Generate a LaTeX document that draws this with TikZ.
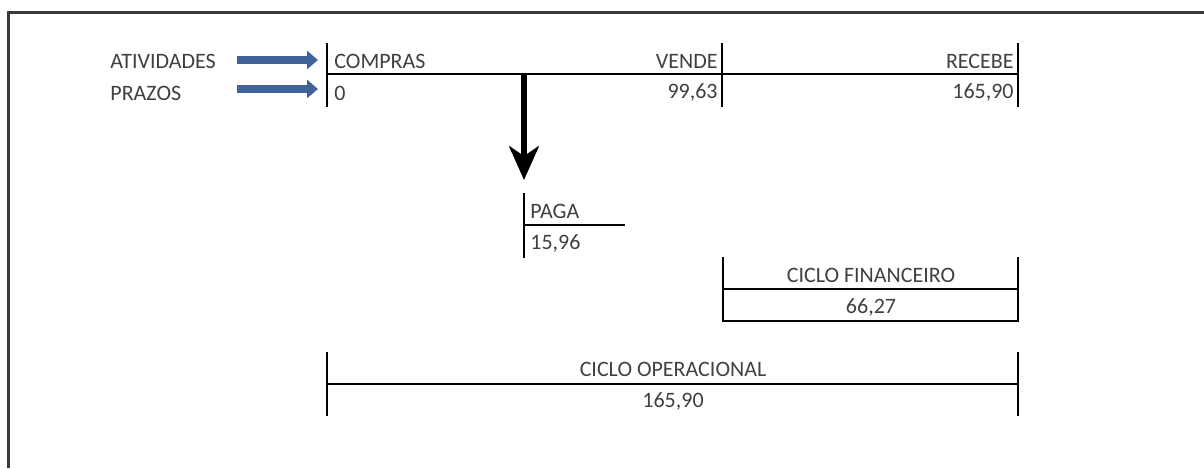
\documentclass[tikz,border=0pt]{standalone}
\usepackage{fontspec}
\setmainfont{Carlito}
\usetikzlibrary{arrows.meta}
\definecolor{ink}{HTML}{404040}
\definecolor{steel}{HTML}{40639A}
\definecolor{edge}{HTML}{3A3A3A}
\tikzset{
  lbl/.style={font=\fontsize{11}{12}\selectfont,text=ink,inner sep=0pt},
  bar/.style={line width=1.4pt,black},
  flow/.style={steel,line width=3.8pt,-{Triangle[length=5.5pt,width=9pt]}},
  drop/.style={black,line width=2.6pt,-{Stealth[length=17pt,width=15pt,inset=5pt]}}
}

\begin{document}
\begin{tikzpicture}[x=0.5pt,y=-0.5pt,line cap=butt]
  \useasboundingbox (0,0) rectangle (1204,468);
  \draw[edge,line width=1.5pt] (8,468) -- (8,12) -- (1204,12);
  % linha do tempo
  \draw[bar] (327,74) -- (1018,74);
  \foreach \x in {327,722,1018}{\draw[bar] (\x,43) -- (\x,107);}
  \node[lbl,anchor=base west] (ativ) at (110,68) {ATIVIDADES};
  \node[lbl,anchor=base west] (praz) at (110,100) {PRAZOS};
  \node[lbl,anchor=base west] (compras) at (334,68) {COMPRAS};
  \node[lbl,anchor=base west] (pzero) at (334,100) {0};
  \node[lbl,anchor=base east] (vende) at (718,68) {VENDE};
  \node[lbl,anchor=base east] (pvende) at (718,98) {99,63};
  \node[lbl,anchor=base east] (recebe) at (1014,68) {RECEBE};
  \node[lbl,anchor=base east] (precebe) at (1014,98) {165,90};
  \coordinate (fa0) at (237,60); \coordinate (fa1) at (318,60);
  \coordinate (fp0) at (237,89); \coordinate (fp1) at (318,89);
  \draw[flow] (fa0) -- (fa1);
  \draw[flow] (fp0) -- (fp1);
  % pagamento
  \coordinate (d0) at (524,74); \coordinate (d1) at (524,180);
  \draw[drop] (d0) -- (d1);
  \draw[bar] (524,193) -- (524,258);
  \draw[bar] (524,225) -- (625,225);
  \node[lbl,anchor=base west] (paga) at (530,218) {PAGA};
  \node[lbl,anchor=base west] (ppaga) at (530,249) {15,96};
  % ciclos
  \draw[bar] (723,257) -- (723,321) -- (1018,321) -- (1018,257);
  \draw[bar] (723,289) -- (1018,289);
  \node[lbl,anchor=base] (cfin) at (871,282) {CICLO FINANCEIRO};
  \node[lbl,anchor=base] (vfin) at (871,313) {66,27};
  \draw[bar] (327,352) -- (327,416);
  \draw[bar] (1018,352) -- (1018,416);
  \draw[bar] (327,384) -- (1018,384);
  \node[lbl,anchor=base] (cop) at (673,376) {CICLO OPERACIONAL};
  \node[lbl,anchor=base] (vop) at (673,407) {165,90};
\end{tikzpicture}
\end{document}
